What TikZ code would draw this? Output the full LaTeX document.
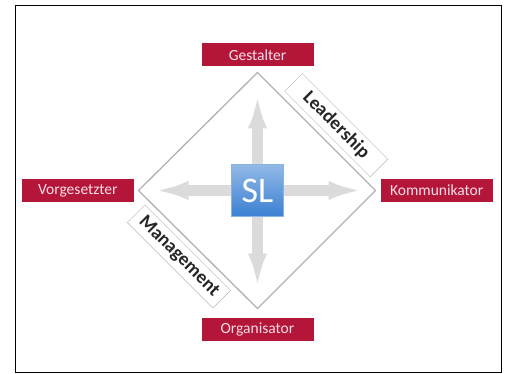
\documentclass[tikz,border=0pt]{standalone}
\usepackage{fontspec}
\setmainfont{Carlito}
\usetikzlibrary{arrows.meta, positioning, calc}
\definecolor{rolered}{RGB}{180,22,58}
\definecolor{rolefg}{RGB}{250,222,230}
\definecolor{slblue}{RGB}{58,128,210}

\begin{document}
\begin{tikzpicture}[x=1pt, y=-1pt,
  role/.style={fill=rolered, text=rolefg, minimum width=112pt,
               minimum height=23pt, inner sep=0pt,
               font=\fontsize{15.5}{18}\selectfont},
  tag/.style={draw=gray!55, fill=white, rotate=-45, text=black!85,
              minimum width=121pt, minimum height=25pt, inner sep=1pt,
              font=\fontsize{19}{22}\selectfont\bfseries},
  edge/.style={draw=gray!60, line width=1.3pt},
  sarr/.style={draw=gray!28, line width=11pt,
               -{Latex[length=36pt, width=19pt]}},
  node distance=6pt
]
  \useasboundingbox (0,0) rectangle (505,374);
  \draw[line width=1pt] (15,6) rectangle (501,372);

  % centre and diamond corners
  \coordinate (c) at (257.5,190.5);
  \coordinate (pN) at ($(c)+(0,-118)$);
  \coordinate (pE) at ($(c)+(118,0)$);
  \coordinate (pS) at ($(c)+(0,118)$);
  \coordinate (pW) at ($(c)+(-119,0)$);

  \draw[edge] (pN) -- (pE) -- (pS) -- (pW) -- cycle;

  % arrows out of SL
  \coordinate[above=98pt of c] (tipN);
  \coordinate[below=99pt of c] (tipS);
  \coordinate[left=105pt of c] (tipW);
  \coordinate[right=107pt of c] (tipE);
  \draw[sarr] (c) -- (tipN);
  \draw[sarr] (c) -- (tipS);
  \draw[sarr] (c) -- (tipW);
  \draw[sarr] (c) -- (tipE);

  \node[draw=slblue!60!white, top color=slblue!55!white, bottom color=slblue,
        minimum size=52pt, inner sep=0pt, text=white,
        font=\fontsize{36}{38}\selectfont] (sl) at (c) {SL};

  % roles
  \node[role, above=of pN] (gest) {Gestalter};
  \node[role, below=9pt of pS] (orga) {Organisator};
  \node[role, left=4.5pt of pW] (vorg) {Vorgesetzter};
  \node[role, right=5pt of pE] (komm) {Kommunikator};

  % labels on the edges
  \node[tag] (lead) at ($(pN)!.557!(pE)+(13,-13)$) {Leadership};
  \node[tag] (mgmt) at ($(pW)!.449!(pS)+(-13,13)$) {Management};
\end{tikzpicture}
\end{document}
